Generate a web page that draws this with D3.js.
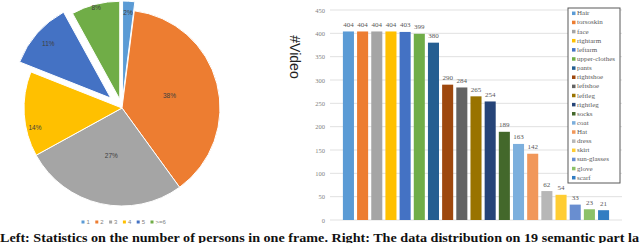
<!DOCTYPE html>
<html><head><meta charset="utf-8">
<script src="https://cdn.jsdelivr.net/npm/d3@7"></script>
<style>html,body{margin:0;padding:0;background:#fff;overflow:hidden}</style>
</head><body>
<svg id="c" width="640" height="243"></svg>
<script>
// ---- data ----
const pieCategories = ["1", "2", "3", "4", "5", ">=6"];
const pieValues = [2, 38, 27, 14, 11, 8];
const pieColors = ["#5B9BD5", "#ED7D31", "#A5A5A5", "#FFC000", "#4472C4", "#70AD47"];

const partLabels = ["Hair","torsoskin","face","rightarm","leftarm","upper-clothes","pants","rightshoe","leftshoe","leftleg","rightleg","socks","coat","Hat","dress","skirt","sun-glasses","glove","scarf"];
const partValues = [404,404,404,404,403,399,380,290,284,265,254,189,163,142,62,54,33,23,21];
const partColors = ["#5B9BD5","#ED7D31","#A5A5A5","#FFC000","#4472C4","#70AD47","#255E91","#9E480E","#636363","#997300","#264478","#43682B","#7CAFDD","#F1975A","#B7B7B7","#FFCD33","#698ED0","#8CC168","#327DC2"];
const yTicks = [0,50,100,150,200,250,300,350,400,450];

const caption = "Left: Statistics on the number of persons in one frame. Right: The data distribution on 19 semantic part la";

// ---- layout ----
const svg = d3.select("#c");
svg.append("rect").attr("width",640).attr("height",243).attr("fill","#fff");

// Pie
const cx = 122, cy = 108, R = 98;
const explode = [9, 0, 0, 0, 15, 9];
const labelR = [0.88, 0.5, 0.5, 0.91, 0.85, 0.97];
const labelDA = [0, 0, 0, -9, 0, 0];
const pie = d3.pie().sort(null).value(d => d)(pieValues);
const arc = d3.arc().innerRadius(0).outerRadius(R);
const gp = svg.append("g").attr("transform", `translate(${cx},${cy})`);
pie.forEach((p, i) => {
  const mid = (p.startAngle + p.endAngle) / 2;
  const ox = explode[i] * Math.sin(mid), oy = -explode[i] * Math.cos(mid);
  const g = gp.append("g").attr("transform", `translate(${ox},${oy})`);
  g.append("path").attr("d", arc(p)).attr("fill", pieColors[i]).attr("stroke", "#fff").attr("stroke-width", 1);
  const a = mid + labelDA[i] * Math.PI / 180;
  const lr = labelR[i] * R;
  g.append("text").attr("x", lr * Math.sin(a)).attr("y", -lr * Math.cos(a))
    .attr("text-anchor", "middle").attr("dominant-baseline", "central")
    .attr("font-family", "Liberation Sans, Arial, sans-serif").attr("font-size", 6.5)
    .attr("fill", "#404040").text(pieValues[i] + "%");
});

// Pie legend
const legX = d3.scalePoint().domain(pieCategories).range([83, 152]);
const lg = svg.append("g");
pieCategories.forEach((c, i) => {
  const x = legX(c);
  lg.append("rect").attr("x", x - 1.5).attr("y", 220.5).attr("width", 3).attr("height", 3).attr("fill", pieColors[i]);
  lg.append("text").attr("x", x + 3.5).attr("y", 222.3).attr("dominant-baseline", "central")
    .attr("font-family", "Liberation Sans, Arial, sans-serif").attr("font-size", 6).attr("fill", "#7f7f7f").text(c);
});

// Bar chart
const y = d3.scaleLinear().domain([0, 450]).range([220, 10]);
const x = d3.scaleBand().domain(partLabels).range([330, 622]).paddingInner(0.22).paddingOuter(0.91);
const gb = svg.append("g");
yTicks.forEach(t => {
  gb.append("line").attr("x1", 330).attr("x2", 622).attr("y1", y(t)).attr("y2", y(t))
    .attr("stroke", "#D9D9D9").attr("stroke-width", 0.8);
  gb.append("text").attr("x", 325).attr("y", y(t)).attr("text-anchor", "end").attr("dominant-baseline", "central")
    .attr("font-family", "Liberation Serif, Times New Roman, serif").attr("font-size", 6.5).attr("fill", "#7f7f7f").text(t);
});
partLabels.forEach((p, i) => {
  gb.append("rect").attr("x", x(p)).attr("y", y(partValues[i])).attr("width", x.bandwidth())
    .attr("height", y(0) - y(partValues[i])).attr("fill", partColors[i]);
  gb.append("text").attr("x", x(p) + x.bandwidth() / 2).attr("y", y(partValues[i]) - 4.5)
    .attr("text-anchor", "middle").attr("font-family", "Liberation Serif, Times New Roman, serif")
    .attr("font-size", 7).attr("fill", "#595959").text(partValues[i]);
});
svg.append("text").attr("transform", "translate(295,57) rotate(90)").attr("text-anchor", "middle")
  .attr("dominant-baseline", "central").attr("font-family", "Liberation Sans, Arial, sans-serif")
  .attr("font-size", 14).attr("fill", "#222").text("#Video");

// Bar legend
const lgy = d3.scalePoint().domain(partLabels).range([13.3, 177.7]);
const bl = svg.append("g");
bl.append("rect").attr("x", 568).attr("y", 8).attr("width", 52).attr("height", 175)
  .attr("fill", "#fff").attr("stroke", "#595959").attr("stroke-width", 1);
partLabels.forEach((p, i) => {
  bl.append("rect").attr("x", 572).attr("y", lgy(p) - 1.75).attr("width", 3.5).attr("height", 3.5).attr("fill", partColors[i]);
  bl.append("text").attr("x", 577).attr("y", lgy(p)).attr("dominant-baseline", "central")
    .attr("font-family", "Liberation Serif, Times New Roman, serif").attr("font-size", 7).attr("fill", "#595959").text(p);
});

// Caption
svg.append("text").attr("x", 0).attr("y", 241.5).attr("textLength", 639).attr("lengthAdjust", "spacingAndGlyphs")
  .attr("font-family", "Liberation Serif, Times New Roman, serif").attr("font-weight", "bold")
  .attr("font-size", 12).attr("fill", "#111").text(caption);
</script>
</body></html>
